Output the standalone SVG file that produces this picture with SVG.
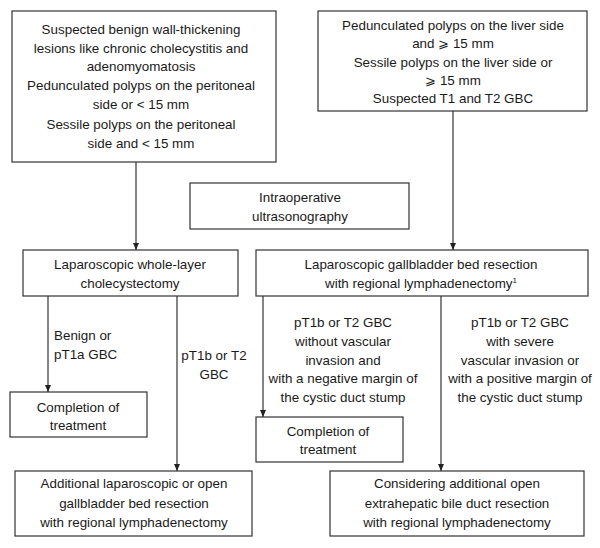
<svg xmlns="http://www.w3.org/2000/svg" width="600" height="548" viewBox="0 0 600 548">
<style>
.box{fill:#fff;stroke:#333;stroke-width:1.2}
text{font-family:"Liberation Sans",Arial,sans-serif;font-size:13.4px;fill:#1a1a1a;text-anchor:middle}
.l{text-anchor:start}
.c{stroke:#333;stroke-width:1.2;fill:none}
</style>
<defs>
<marker id="ar" markerWidth="8" markerHeight="8" refX="7" refY="4" orient="auto" markerUnits="userSpaceOnUse">
<path d="M0,1 L7,4 L0,7 Z" fill="#222"/>
</marker>
</defs>
<rect width="600" height="548" fill="#fff"/>
<g id="connectors">
<line class="c" x1="136" y1="162" x2="136" y2="250" marker-end="url(#ar)"/>
<line class="c" x1="453" y1="111" x2="453" y2="250" marker-end="url(#ar)"/>
<line class="c" x1="48" y1="296" x2="48" y2="392" marker-end="url(#ar)"/>
<line class="c" x1="177" y1="296" x2="177" y2="471" marker-end="url(#ar)"/>
<line class="c" x1="263" y1="296" x2="263" y2="417" marker-end="url(#ar)"/>
<line class="c" x1="441" y1="296" x2="441" y2="471" marker-end="url(#ar)"/>
<text class="l" x="54" y="340">Benign or</text>
<text class="l" x="54" y="359">pT1a GBC</text>
<text x="214" y="360">pT1b or T2</text>
<text x="214" y="379">GBC</text>
<text x="343" y="327">pT1b or T2 GBC</text>
<text x="343" y="346">without vascular</text>
<text x="343" y="365">invasion and</text>
<text x="343" y="383">with a negative margin of</text>
<text x="343" y="402">the cystic duct stump</text>
<text x="520" y="327">pT1b or T2 GBC</text>
<text x="520" y="346">with severe</text>
<text x="520" y="365">vascular invasion or</text>
<text x="520" y="383">with a positive margin of</text>
<text x="520" y="402">the cystic duct stump</text>
</g>
<g id="n1">
<rect class="box" x="12" y="11" width="264" height="151"/>
<text x="141" y="34">Suspected benign wall-thickening</text>
<text x="141" y="53">lesions like chronic cholecystitis and</text>
<text x="141" y="71">adenomyomatosis</text>
<text x="141" y="90">Pedunculated polyps on the peritoneal</text>
<text x="141" y="109">side or &lt; 15 mm</text>
<text x="141" y="129">Sessile polyps on the peritoneal</text>
<text x="141" y="148">side and &lt; 15 mm</text>
</g>
<g id="n2">
<rect class="box" x="318" y="11" width="269" height="100"/>
<text x="453" y="30">Pedunculated polyps on the liver side</text>
<text x="453" y="48">and ⩾ 15 mm</text>
<text x="453" y="67">Sessile polyps on the liver side or</text>
<text x="453" y="85">⩾ 15 mm</text>
<text x="453" y="103">Suspected T1 and T2 GBC</text>
</g>
<g id="n3">
<rect class="box" x="190" y="183" width="219" height="46"/>
<text x="300" y="202">Intraoperative</text>
<text x="300" y="221">ultrasonography</text>
</g>
<g id="n4">
<rect class="box" x="23" y="250" width="215" height="46"/>
<text x="130" y="269">Laparoscopic whole-layer</text>
<text x="130" y="288">cholecystectomy</text>
</g>
<g id="n5">
<rect class="box" x="256" y="250" width="332" height="46"/>
<text x="421" y="269">Laparoscopic gallbladder bed resection</text>
<text x="421" y="288">with regional lymphadenectomy<tspan font-size="8" dy="-5">1</tspan></text>
</g>
<g id="n6">
<rect class="box" x="10" y="392" width="137" height="45"/>
<text x="78" y="412">Completion of</text>
<text x="78" y="430">treatment</text>
</g>
<g id="n7">
<rect class="box" x="256" y="417" width="147" height="45"/>
<text x="328" y="436">Completion of</text>
<text x="328" y="454">treatment</text>
</g>
<g id="n8">
<rect class="box" x="15" y="471" width="237" height="65"/>
<text x="134" y="488">Additional laparoscopic or open</text>
<text x="134" y="508">gallbladder bed resection</text>
<text x="134" y="527">with regional lymphadenectomy</text>
</g>
<g id="n9">
<rect class="box" x="330" y="471" width="254" height="65"/>
<text x="457" y="488">Considering additional open</text>
<text x="457" y="508">extrahepatic bile duct resection</text>
<text x="457" y="527">with regional lymphadenectomy</text>
</g>
</svg>
